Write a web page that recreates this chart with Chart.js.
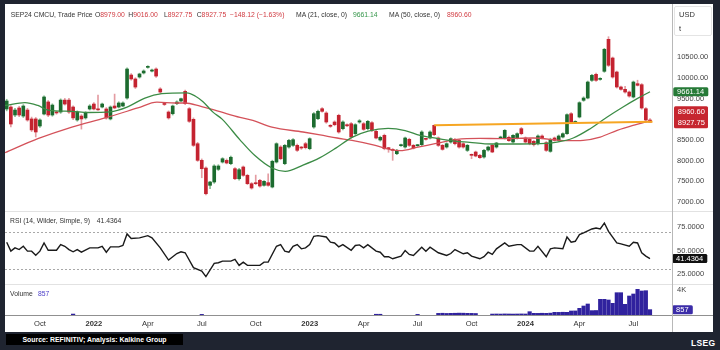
<!DOCTYPE html>
<html>
<head>
<meta charset="utf-8">
<title>SEP24 CMCU</title>
<script src="https://cdn.jsdelivr.net/npm/chart.js@4.4.1/dist/chart.umd.min.js"></script>
<style>
  html, body { margin: 0; padding: 0; }
  body {
    position: relative; width: 720px; height: 350px; overflow: hidden;
    background: #1f2430;
    font-family: "Liberation Sans", Arial, sans-serif; font-size: 6.8px; color: #333;
  }
  #panel { position: absolute; left: 5px; top: 4px; width: 708px; height: 328px; background: #fff; }
  canvas { position: absolute; left: 5px; }
  .txt { position: absolute; white-space: nowrap; line-height: 10px; }
  .hline { position: absolute; left: 5px; width: 708px; height: 1px; }
  .red { color: #d03a40; }
  .green { color: #35964a; }
</style>
</head>
<body>
<div id="panel"></div>
<canvas id="price" width="708" height="203" style="top:8px"></canvas>
<canvas id="rsi" width="708" height="73" style="top:211px"></canvas>
<canvas id="vol" width="708" height="48" style="top:284px"></canvas>

<div class="hline" style="top:211px;background:#e2e2e2"></div>
<div class="hline" style="top:284px;background:#e2e2e2"></div>
<div class="hline" style="top:315px;background:#909090"></div>
<div style="position:absolute;left:672px;top:4px;width:1px;height:328px;background:#b8b8b8"></div>

<!-- header line -->
<div class="txt" style="left:10.7px;top:9.5px">SEP24 CMCU, Trade Price</div>
<div class="txt" style="left:95px;top:9.5px">O<span class="red" id="hO"></span></div>
<div class="txt" style="left:128.3px;top:9.5px">H<span class="red" id="hH"></span></div>
<div class="txt" style="left:164px;top:9.5px">L<span class="red" id="hL"></span></div>
<div class="txt" style="left:196.7px;top:9.5px">C<span class="red" id="hC"></span></div>
<div class="txt red" style="left:230px;top:9.5px">−148.12 (−1.63%)</div>
<div class="txt" style="left:296px;top:9.5px">MA (21, close, 0)</div>
<div class="txt green" style="left:353px;top:9.5px" id="hMa21"></div>
<div class="txt" style="left:389px;top:9.5px">MA (50, close, 0)</div>
<div class="txt red" style="left:447px;top:9.5px" id="hMa50"></div>

<!-- unit box -->
<div style="position:absolute;left:674px;top:6px;width:36px;height:28px;border:1px solid #e4e4e4;border-radius:2px"></div>
<div class="txt" style="left:679px;top:9.5px;font-size:7.5px">USD</div>
<div class="txt" style="left:679px;top:24px;font-size:7.5px">t</div>

<!-- panel captions -->
<div class="txt" style="left:10px;top:216px">RSI (14, Wilder, Simple, 9)</div>
<div class="txt" style="left:96.7px;top:216px" id="rsiLast"></div>
<div class="txt" style="left:10px;top:288.5px">Volume</div>
<div class="txt" style="left:38px;top:288.5px;color:#4a3cc8" id="volLast"></div>

<!-- footer -->
<div class="txt" style="left:6px;top:334px;width:177px;height:11px;line-height:11px;background:#000;color:#fff;font-weight:bold;font-size:6.9px;text-align:center">Source: REFINITIV; Analysis: Kalkine Group</div>
<div class="txt" style="left:691px;top:338px;color:#fff;font-weight:bold;font-size:8.5px;letter-spacing:0.3px">LSEG</div>

<script>
/* weekly SEP24 CMCU candles, first bar is the week of 9 Aug 2021 */
var firstWeek = '2021-08-09';

var open = [
  9245, 9293, 9100, 9270, 9075, 9220, 9005, 9005, 8835, 9124,
  9415, 9100, 9160, 9172, 9460, 9460, 9293, 8980, 9075, 9030,
  9245, 9365, 9240, 9293, 9245, 9005, 9317, 9293, 9317, 9510,
  10065, 9970, 10017, 10115, 10250, 10160, 10210, 9728, 9375, 9172,
  9131, 9373, 9438, 9672, 9252, 8996, 8407, 8006, 7820, 7403,
  7483, 7789, 7965, 8005, 7925, 7804, 7562, 7845, 7644, 7442,
  7450, 7523, 7403, 7467, 7362, 7965, 8327, 7925, 8327, 8368,
  8368, 8310, 8407, 8287, 8810, 9011, 9252, 9148, 8840, 8931,
  9093, 8770, 8866, 8890, 8650, 8930, 8890, 8770, 8914, 8706,
  8497, 8610, 8300, 8260, 8166, 8360, 8327, 8513, 8368, 8360,
  8384, 8520, 8545, 8850, 8545, 8368, 8327, 8448, 8513, 8488,
  8407, 8247, 8140, 8207, 8127, 8086, 8255, 8368, 8327, 8545,
  8545, 8561, 8448, 8545, 8770, 8545, 8513, 8464, 8407, 8593,
  8432, 8223, 8545, 8488, 8569, 8649, 9131, 8920, 9052, 9455,
  9510, 9937, 10082, 9960, 10155, 10927, 10476, 10138, 9776, 9720,
  9655, 9534, 9856, 9832, 9252, 8979
];
var high = [
  9480, 9330, 9260, 9310, 9350, 9260, 9050, 9040, 9010, 9560,
  9450, 9370, 9190, 9490, 9500, 9500, 9320, 9200, 9110, 9180,
  9350, 9400, 9580, 9390, 9280, 9320, 9605, 9420, 9420, 10240,
  10100, 10000, 10110, 10190, 10290, 10210, 10240, 9760, 9400, 9200,
  9340, 9440, 9510, 9700, 9280, 9030, 8440, 8040, 7850, 7500,
  7900, 7900, 8070, 8040, 8110, 7830, 7810, 7870, 7670, 7470,
  7650, 7550, 7520, 7680, 8010, 8430, 8360, 8390, 8510, 8530,
  8400, 8340, 8440, 8550, 9160, 9220, 9280, 9180, 8870, 8960,
  9120, 8960, 8890, 8920, 8890, 8990, 8920, 8970, 8940, 8730,
  8590, 8640, 8320, 8290, 8270, 8400, 8570, 8540, 8390, 8390,
  8720, 8540, 8720, 8860, 8570, 8390, 8430, 8550, 8540, 8510,
  8430, 8390, 8160, 8230, 8150, 8270, 8350, 8390, 8440, 8590,
  8750, 8590, 8630, 8670, 8800, 8570, 8540, 8490, 8620, 8620,
  8460, 8540, 8570, 8620, 8670, 9130, 9160, 8960, 9420, 9540,
  9920, 10080, 10110, 10000, 10710, 10990, 10500, 10160, 9800, 9790,
  9680, 9920, 9940, 9860, 9280, 9016
];
var low = [
  9200, 8810, 9060, 9060, 9040, 8950, 8700, 8570, 8800, 9100,
  9060, 9070, 9120, 9140, 9340, 9140, 8990, 8950, 8760, 9000,
  9220, 9220, 9210, 9270, 9000, 8980, 9250, 9270, 9300, 9480,
  9940, 9740, 9990, 10090, 10230, 10140, 10010, 9620, 9330, 9000,
  9100, 9350, 9420, 9350, 8920, 8340, 7980, 7586, 7170, 7320,
  7450, 7760, 7940, 7920, 7900, 7540, 7530, 7620, 7420, 7310,
  7420, 7360, 7380, 7380, 7340, 7940, 8020, 7900, 8300, 8340,
  8220, 8270, 8280, 8260, 8780, 8990, 9170, 8900, 8800, 8840,
  8660, 8740, 8820, 8540, 8620, 8900, 8730, 8740, 8700, 8520,
  8470, 8260, 8200, 8006, 8140, 8340, 8300, 8340, 8280, 8340,
  8360, 8490, 8520, 8600, 8340, 8250, 8300, 8420, 8380, 8300,
  8300, 8220, 8045, 8090, 8050, 8060, 8230, 8190, 8300, 8530,
  8520, 8460, 8420, 8520, 8620, 8420, 8380, 8350, 8380, 8520,
  8220, 8200, 8470, 8460, 8550, 8630, 8910, 8900, 9030, 9430,
  9490, 9910, 9910, 9940, 10130, 10270, 9990, 9750, 9700, 9630,
  9530, 9510, 9800, 9240, 8950, 8927.75
];
var close = [
  9438, 8883, 9220, 9100, 9317, 8980, 8740, 8690, 8980, 9535,
  9100, 9340, 9150, 9460, 9365, 9172, 9030, 9172, 9005, 9150,
  9317, 9245, 9225, 9365, 9030, 9293, 9270, 9390, 9390, 10210,
  9970, 9775, 10090, 10162, 10260, 10186, 10040, 9655, 9355, 9030,
  9317, 9414, 9493, 9373, 8948, 8368, 8006, 7804, 7200, 7483,
  7869, 7869, 8045, 7941, 8080, 7562, 7780, 7644, 7442, 7338,
  7442, 7386, 7499, 7403, 7982, 8407, 8045, 8368, 8488, 8504,
  8248, 8303, 8311, 8528, 9131, 9189, 9189, 8931, 8827, 8866,
  8690, 8931, 8840, 8569, 8866, 8960, 8754, 8948, 8730, 8545,
  8561, 8287, 8287, 8247, 8247, 8368, 8545, 8368, 8303, 8368,
  8690, 8513, 8690, 8625, 8368, 8271, 8407, 8528, 8407, 8327,
  8327, 8368, 8127, 8110, 8070, 8247, 8327, 8207, 8424, 8569,
  8730, 8480, 8610, 8649, 8649, 8448, 8407, 8383, 8593, 8545,
  8247, 8513, 8488, 8593, 8649, 9108, 8931, 8931, 9397, 9510,
  9896, 10058, 9937, 9976, 10686, 10300, 10017, 9776, 9720, 9655,
  9558, 9896, 9817, 9269, 8979, 8927.75
];
var volume = [
  0, 0, 0, 0, 0, 0, 0, 0, 0, 0,
  0, 0, 0, 0, 0, 0, 150, 0, 0, 0,
  0, 0, 0, 0, 0, 0, 0, 0, 0, 0,
  0, 0, 0, 0, 0, 0, 0, 0, 0, 0,
  0, 0, 0, 0, 0, 0, 0, 100, 0, 0,
  0, 0, 0, 0, 0, 0, 0, 0, 0, 0,
  0, 0, 0, 0, 0, 0, 0, 0, 0, 0,
  0, 0, 0, 0, 0, 0, 0, 0, 0, 0,
  0, 0, 0, 0, 0, 0, 0, 0, 0, 120,
  120, 0, 0, 0, 0, 0, 0, 0, 0, 100,
  0, 0, 0, 0, 260, 280, 250, 270, 280, 300,
  290, 270, 260, 240, 0, 0, 0, 150, 160, 150,
  170, 160, 150, 160, 170, 160, 530, 270, 260, 280,
  270, 300, 430, 420, 440, 430, 640, 650, 1070, 1440,
  1760, 700, 720, 2510, 2510, 2400, 1870, 3570, 3570, 1710,
  3040, 3360, 4110, 3840, 3890, 857
];

// moving averages at these week positions
var ma21Week  = [-0.4, 4.4, 7.5, 10.0, 15.7, 19.6, 24.9, 29.0, 33.3, 37.4,
                 43.4, 45.4, 47.3, 49.7, 51.9, 56.2, 59.8, 63.9, 67.1, 71.4,
                 75.5, 79.3, 83.2, 87.1, 91.9, 96.0, 99.6, 103.4, 108.0, 111.6,
                 115.2, 119.3, 126.8, 132.6, 136.5, 140.6, 144.7, 148.5, 151.9, 155];
var ma21Value = [9330, 9400, 9330, 9220, 9189, 9160, 9175, 9290, 9510, 9614,
                 9635, 9560, 9420, 9170, 9000, 8500, 8120, 7820, 7740, 7890,
                 8070, 8300, 8560, 8710, 8775, 8725, 8610, 8540, 8470, 8440,
                 8405, 8400, 8405, 8448, 8545, 8770, 9052, 9293, 9494, 9661.14];
var ma50Week  = [-0.4, 7.5, 15.7, 23.7, 31.6, 36.2, 40.6, 43.0, 46.6, 51.4,
                 56.2, 59.3, 63.9, 71.4, 75.5, 79.6, 83.2, 88.3, 92.4, 94.8,
                 99.1, 103.2, 108.5, 114.0, 118.9, 126.8, 135.0, 138.9, 143.0, 147.1,
                 150.9, 155];
var ma50Value = [8190, 8528, 8810, 9030, 9270, 9410, 9390, 9390, 9317, 9180,
                 9044, 8972, 8806, 8690, 8620, 8545, 8488, 8380, 8265, 8240,
                 8327, 8407, 8513, 8537, 8530, 8545, 8480, 8490, 8569, 8730,
                 8850, 8960.6];

var trendWeek  = [103, 155.6];
var trendValue = [8850, 8935];

var rsiWeek = [
  0, 1, 2, 3, 4, 5, 6, 7, 8, 9, 10, 12, 13, 14, 15, 16, 17, 18, 20, 22,
  23, 24, 25, 27, 28, 29, 30, 32, 34, 35, 37, 39, 41, 42, 43, 45, 47, 48, 50, 51,
  52, 54, 55, 56, 57, 58, 61, 62, 63, 65, 66, 67, 68, 69, 70, 71, 72, 73, 74, 75,
  77, 78, 79, 80, 81, 83, 84, 85, 86, 87, 89, 90, 91, 92, 93, 95, 96, 97, 98, 100,
  101, 102, 104, 106, 107, 108, 110, 111, 112, 114, 115, 116, 117, 118, 120, 121, 123, 124, 126, 127,
  128, 130, 131, 132, 134, 135, 136, 137, 138, 139, 141, 142, 143, 144, 145, 147, 148, 150, 151, 152,
  153, 154, 155
];
var rsiValue = [
  58.8, 49.3, 52.8, 51.0, 54.5, 49.3, 49.3, 45.0, 49.3, 58.0, 50.3, 50.3, 56.3, 54.5, 51.0, 48.6, 51.0, 48.2, 52.8, 52.8,
  54.5, 48.2, 53.9, 53.9, 55.3, 67.6, 62.7, 63.4, 65.8, 63.4, 52.8, 39.8, 46.8, 48.6, 47.6, 31.8, 28.2, 22.3, 36.3, 37.0,
  38.7, 38.7, 40.5, 34.2, 37.7, 34.2, 34.2, 37.7, 37.7, 54.5, 56.3, 49.3, 48.2, 54.5, 56.3, 51.8, 52.8, 56.3, 65.1, 65.8,
  64.4, 58.8, 58.0, 53.9, 56.3, 50.3, 55.3, 56.0, 52.8, 56.3, 49.3, 48.2, 43.4, 43.4, 41.2, 44.0, 50.0, 45.8, 44.7, 53.5,
  49.3, 53.5, 47.6, 44.7, 46.8, 51.0, 46.5, 47.6, 44.0, 41.2, 43.4, 48.2, 45.8, 51.8, 58.0, 54.5, 56.3, 56.3, 49.3, 49.3,
  54.5, 43.4, 51.8, 52.8, 51.8, 64.4, 58.8, 59.8, 66.9, 68.7, 72.9, 73.9, 72.9, 79.2, 70.4, 58.0, 57.0, 54.5, 58.8, 58.0,
  47.6, 44.0, 41.4364
];

var priceTicks = [7000, 7500, 8000, 8500, 9000, 9500, 10000, 10500];
var rsiTicks   = [25, 50, 75];
var rsiBands   = [30, 70];
var volTicks   = [4000];
var tickLabels = ['Oct', '2022', 'Apr', 'Jul', 'Oct', '2023', 'Apr', 'Jul', 'Oct', '2024', 'Apr', 'Jul'];
var tickDates  = ['2021-10-04', '2022-01-03', '2022-04-04', '2022-07-04', '2022-10-03', '2023-01-02',
                  '2023-04-03', '2023-07-03', '2023-10-02', '2024-01-01', '2024-04-01', '2024-07-01'];

/* ── helpers ── */

var FONT = '"Liberation Sans", Arial, sans-serif';
Chart.defaults.font.family = FONT;
Chart.defaults.font.size = 7.5;
Chart.defaults.color = '#444';

var last = close.length - 1;
var tickWeeks = tickDates.map(function (d) {
  return Math.round((Date.parse(d) - Date.parse(firstWeek)) / (7 * 864e5));
});

function pts(xs, ys) {
  return xs.map(function (x, k) { return { x: x, y: ys[k] }; });
}
function isUp(i) { return close[i] >= open[i]; }

function xAxis(show) {
  return {
    type: 'linear', min: -0.41, max: 160.3, offset: false, display: show,
    grid: { display: false, drawTicks: false },
    border: { display: false },
    afterBuildTicks: function (s) { s.ticks = tickWeeks.map(function (w) { return { value: w }; }); },
    afterFit: function (s) { if (show) s.height = 17; s.paddingLeft = 0; s.paddingRight = 0; },
    ticks: {
      autoSkip: false, maxRotation: 0, padding: 4, color: '#333',
      font: function (c) {
        return { size: 7.6, weight: /^\d{4}$/.test(tickLabels[c.index] || '') ? 'bold' : 'normal' };
      },
      callback: function (v, k) { return tickLabels[k]; }
    }
  };
}

function yAxis(min, max, ticks, fmt) {
  return {
    position: 'right', min: min, max: max,
    grid: { display: false, drawTicks: false },
    border: { display: false },
    afterBuildTicks: function (s) { s.ticks = ticks.map(function (v) { return { value: v }; }); },
    afterFit: function (s) { s.width = 41; s.paddingTop = 0; s.paddingBottom = 0; },
    ticks: { padding: 5, color: '#444', callback: fmt }
  };
}

// value tags in the right-hand axis column
function tagPlugin(tags) {
  return {
    id: 'tags',
    afterDraw: function (chart) {
      var c = chart.ctx, a = chart.chartArea, ys = chart.scales.y;
      c.save();
      c.font = '7.5px ' + FONT;
      c.textBaseline = 'middle';
      tags.forEach(function (t) {
        var yc = ys.getPixelForValue(t.value);
        c.fillStyle = t.bg;
        c.beginPath();
        if (c.roundRect) c.roundRect(a.right + t.left, yc + t.top, t.width, t.height, 1.5);
        else c.rect(a.right + t.left, yc + t.top, t.width, t.height);
        c.fill();
        c.fillStyle = '#fff';
        t.texts.forEach(function (s, k) { c.fillText(s, a.right + t.left + 3.8, yc + t.rows[k]); });
      });
      c.restore();
    }
  };
}

var rsiBandPlugin = {
  id: 'rsiBands',
  beforeDatasetsDraw: function (chart) {
    var c = chart.ctx, a = chart.chartArea, ys = chart.scales.y;
    c.save();
    c.strokeStyle = '#a8a8a8';
    c.lineWidth = 1;
    c.setLineDash([2, 2]);
    rsiBands.forEach(function (v) {
      var py = Math.round(ys.getPixelForValue(v)) + 0.5;
      c.beginPath(); c.moveTo(a.left, py); c.lineTo(a.right, py); c.stroke();
    });
    c.restore();
  }
};

var base = {
  responsive: false, animation: false, events: [], devicePixelRatio: 1,
  layout: { padding: 0 },
  plugins: { legend: { display: false }, tooltip: { enabled: false } }
};
function opts(scales) { return Object.assign({}, base, { scales: scales }); }

/* ── header values ── */

document.getElementById('hO').textContent = open[last].toFixed(2);
document.getElementById('hH').textContent = high[last].toFixed(2);
document.getElementById('hL').textContent = low[last].toFixed(2);
document.getElementById('hC').textContent = close[last].toFixed(2);
document.getElementById('hMa21').textContent = ma21Value[ma21Value.length - 1].toFixed(2);
document.getElementById('hMa50').textContent = ma50Value[ma50Value.length - 1].toFixed(2);
document.getElementById('rsiLast').textContent = rsiValue[rsiValue.length - 1].toFixed(4);
document.getElementById('volLast').textContent = String(volume[last]);

/* ── price panel ── */

var idx = close.map(function (_, i) { return i; });

new Chart(document.getElementById('price'), {
  type: 'bar',
  data: {
    datasets: [
      { type: 'line', data: pts(trendWeek, trendValue), borderColor: '#f6a623', borderWidth: 2,
        pointRadius: 0, order: -1 },
      { type: 'line', data: pts(ma21Week, ma21Value), borderColor: '#3c8c46', borderWidth: 1.3,
        pointRadius: 0, cubicInterpolationMode: 'monotone', order: 0 },
      { type: 'line', data: pts(ma50Week, ma50Value), borderColor: '#d4525a', borderWidth: 1.3,
        pointRadius: 0, cubicInterpolationMode: 'monotone', order: 0 },
      { data: idx.map(function (i) { return { x: i, y: [low[i], high[i]] }; }),
        backgroundColor: idx.map(function (i) { return isUp(i) ? '#86bd91' : '#e49ca2'; }),
        barThickness: 1, grouped: false, order: 2 },
      { data: idx.map(function (i) { return { x: i, y: [open[i], close[i]] }; }),
        backgroundColor: idx.map(function (i) { return isUp(i) ? '#1c6b2f' : '#c42330'; }),
        barThickness: 3, minBarLength: 1, grouped: false, order: 1 }
    ]
  },
  options: opts({
    x: xAxis(false),
    y: yAxis(6783, 11683, priceTicks, function (v) { return v.toFixed(2); })
  }),
  plugins: [tagPlugin([
    { value: ma21Value[ma21Value.length - 1], texts: [ma21Value[ma21Value.length - 1].toFixed(2)],
      bg: '#267a37', left: 1.3, width: 35, top: -4.4, height: 8.8, rows: [0] },
    { value: close[last], texts: [ma50Value[ma50Value.length - 1].toFixed(2), close[last].toFixed(2)],
      bg: '#c6262f', left: 2, width: 34, top: -16, height: 22, rows: [-10.4, 0.9] }
  ])]
});

/* ── RSI panel ── */

new Chart(document.getElementById('rsi'), {
  type: 'line',
  data: {
    datasets: [{ data: pts(rsiWeek, rsiValue), borderColor: '#1a1a1a', borderWidth: 1.4, pointRadius: 0 }]
  },
  options: opts({
    x: xAxis(false),
    y: yAxis(14.4, 92.0, rsiTicks, function (v) { return v.toFixed(4); })
  }),
  plugins: [rsiBandPlugin, tagPlugin([
    { value: rsiValue[rsiValue.length - 1], texts: [rsiValue[rsiValue.length - 1].toFixed(4)],
      bg: '#111111', left: 0.3, width: 35, top: -4.5, height: 9, rows: [0] }
  ])]
});

/* ── volume panel + time axis ── */

new Chart(document.getElementById('vol'), {
  type: 'bar',
  data: {
    datasets: [{
      data: idx.filter(function (i) { return volume[i] > 0; })
               .map(function (i) { return { x: i, y: volume[i] }; }),
      backgroundColor: '#30229e', barThickness: 3.5
    }]
  },
  options: opts({
    x: xAxis(true),
    y: yAxis(0, 4960, volTicks, function (v) { return (v / 1000) + 'K'; })
  }),
  plugins: [tagPlugin([
    { value: volume[last], texts: [String(volume[last])],
      bg: '#3b2ca8', left: 0.3, width: 20.5, top: -4.5, height: 9, rows: [0] }
  ])]
});
</script>
</body>
</html>
